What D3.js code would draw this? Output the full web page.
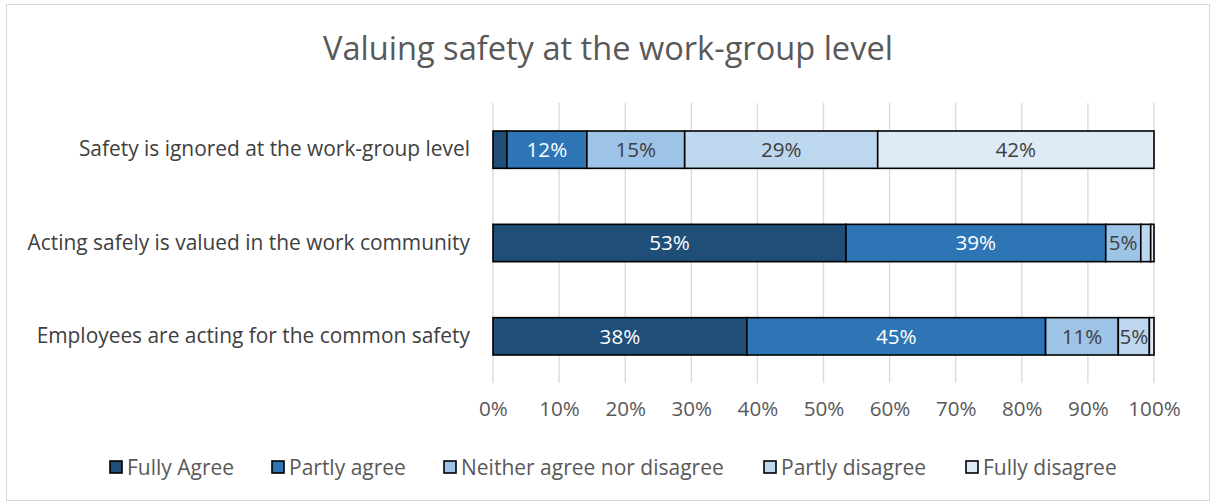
<!DOCTYPE html>
<html>
<head>
<meta charset="utf-8">
<script src="https://cdn.jsdelivr.net/npm/d3@7"></script>
<style>
  html, body { margin: 0; padding: 0; background: #fff; }
  svg { display: block; font-family: "Open Sans", "Noto Sans", sans-serif; }
</style>
</head>
<body>
<svg id="chart" width="1216" height="503"></svg>
<script>
// Survey statements, top to bottom
const statements = [
  "Safety is ignored at the work-group level",
  "Acting safely is valued in the work community",
  "Employees are acting for the common safety"
];
// Response options, in stacking order
const responses = ["Fully Agree", "Partly agree", "Neither agree nor disagree", "Partly disagree", "Fully disagree"];
// Share of answers (%) per statement, one array per response option
const fullyAgree    = [2.1, 53.4, 38.4];
const partlyAgree   = [12.1, 39.3, 45.2];
const neither       = [14.8, 5.3, 11.0];
const partlyDisagree = [29.2, 1.5, 4.7];
const fullyDisagree = [41.8, 0.5, 0.7];
// Axis ticks
const tickValues = [0, 10, 20, 30, 40, 50, 60, 70, 80, 90, 100];

const seriesValues = [fullyAgree, partlyAgree, neither, partlyDisagree, fullyDisagree];
const colors = ["#1f4e79", "#2e75b6", "#9dc3e6", "#bdd7ee", "#deebf7"];
const labelColors = ["#ffffff", "#ffffff", "#404040", "#404040", "#404040"];

const rows = statements.map((s, i) => {
  const r = { statement: s };
  responses.forEach((k, j) => r[k] = seriesValues[j][i]);
  return r;
});
const stacked = d3.stack().keys(responses)(rows);

const svg = d3.select("#chart");

// outer chart frame
svg.append("rect")
  .attr("x", 6.5).attr("y", 4.5).attr("width", 1203).attr("height", 496)
  .attr("fill", "#fff").attr("stroke", "#d9d9d9").attr("stroke-width", 1);

const plot = { left: 493, right: 1154, top: 103, bottom: 383 };

const x = d3.scaleLinear().domain([0, 100]).range([plot.left, plot.right]);
const y = d3.scaleBand().domain(statements).range([plot.top, plot.bottom]).paddingInner(0.6).paddingOuter(0.3);

// title
svg.append("text")
  .attr("x", 608).attr("y", 60)
  .attr("text-anchor", "middle")
  .attr("fill", "#595959")
  .style("font-size", "32.6px")
  .text("Valuing safety at the work-group level");

// vertical gridlines
svg.append("g").selectAll("line").data(tickValues).join("line")
  .attr("x1", d => x(d)).attr("x2", d => x(d))
  .attr("y1", plot.top).attr("y2", plot.bottom)
  .attr("stroke", "#d9d9d9").attr("stroke-width", 1.3);

// x axis labels
const xAxis = d3.axisBottom(x).tickValues(tickValues).tickFormat(d => d + "%").tickSize(0).tickPadding(0);
const gx = svg.append("g").attr("transform", `translate(0,${plot.bottom + 18})`).call(xAxis);
gx.select(".domain").remove();
gx.selectAll("text")
  .attr("fill", "#595959")
  .attr("dy", "0.71em")
  .style("font-size", "20.6px")
  .style("font-family", "\"Open Sans\", sans-serif");

// category labels
const yAxis = d3.axisLeft(y).tickSize(0).tickPadding(23);
const gy = svg.append("g").attr("transform", `translate(${plot.left},0)`).call(yAxis);
gy.select(".domain").remove();
gy.selectAll("text")
  .attr("fill", "#404040")
  .style("font-size", "20.9px")
  .style("font-family", "\"Open Sans\", sans-serif");

// stacked bars
const layers = svg.append("g").selectAll("g").data(stacked).join("g")
  .attr("fill", (d, i) => colors[i]);

layers.selectAll("rect").data(d => d).join("rect")
  .attr("x", d => x(d[0]))
  .attr("y", d => y(d.data.statement))
  .attr("width", d => x(d[1]) - x(d[0]))
  .attr("height", y.bandwidth())
  .attr("stroke", "#000")
  .attr("stroke-width", 1.6);

// value labels
layers.each(function(layer, i) {
  d3.select(this).selectAll("text").data(layer).join("text")
    .filter(d => Math.round(d[1] - d[0]) >= 5)
    .attr("x", d => (x(d[0]) + x(d[1])) / 2)
    .attr("y", d => y(d.data.statement) + y.bandwidth() / 2)
    .attr("dy", "0.36em")
    .attr("text-anchor", "middle")
    .attr("fill", labelColors[i])
    .style("font-size", "20.6px")
    .text(d => Math.round(d[1] - d[0]) + "%");
});

// legend
const legendX = [110, 272, 444, 764, 966];
const legend = svg.append("g").selectAll("g").data(responses).join("g")
  .attr("transform", (d, i) => `translate(${legendX[i]},467)`);
legend.append("rect")
  .attr("x", 0).attr("y", -6).attr("width", 12).attr("height", 12)
  .attr("fill", (d, i) => colors[i])
  .attr("stroke", "#000").attr("stroke-width", 1.6);
legend.append("text")
  .attr("x", 17).attr("y", 0).attr("dy", "0.36em")
  .attr("fill", "#595959")
  .style("font-size", "21px")
  .text(d => d);
</script>
</body>
</html>
